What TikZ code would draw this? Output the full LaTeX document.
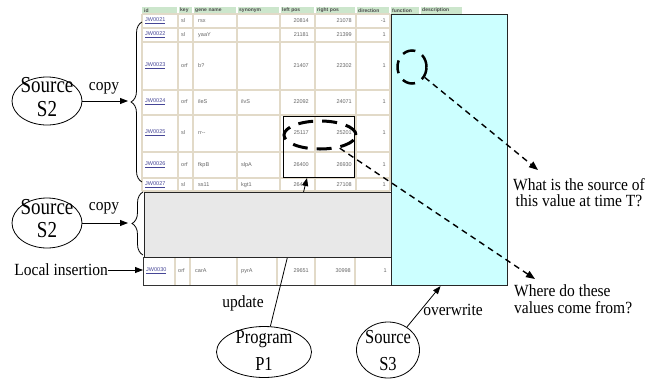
\documentclass[tikz,border=0pt]{standalone}
\usepackage{fontspec}
\setmainfont{Liberation Serif}
\newfontfamily\tabf{Liberation Sans}
\usepackage{graphicx}
\usetikzlibrary{shapes.geometric,decorations.pathreplacing,arrows.meta}
\definecolor{hdrgreen}{RGB}{204,230,204}
\definecolor{celline}{RGB}{226,218,200}
\definecolor{cyanfill}{RGB}{204,255,255}
\definecolor{grayfill}{RGB}{232,232,232}
\definecolor{idblue}{RGB}{70,70,150}
\definecolor{celltext}{RGB}{100,100,100}
\newcommand\vs[2][1.2]{\scalebox{1}[#1]{#2}}
\newcommand\twol[2]{\begin{tabular}{@{}c@{}}#1\\#2\end{tabular}}
\newcommand\twoleft[2]{\begin{tabular}{@{}l@{}}#1\\#2\end{tabular}}
\def\cA{142}\def\cB{178}\def\cC{193}\def\cD{237}\def\cE{280}\def\cF{315}\def\cG{356}\def\cH{390}
\newcommand\trow[9]{%
 \node[cid] (id#1) at (\cA+3,#2) {\underline{#3}};
 \node[ctx] (ky#1) at (\cB+3,#2) {#4};
 \node[ctx] (gn#1) at (\cC+5,#2) {#5};
 \node[ctx] (sy#1) at (\cD+4,#2) {#6};
 \node[cnum] (lp#1) at (\cF-6,#2) {#7};
 \node[cnum] (rp#1) at (\cG-4,#2) {#8};
 \node[cnum] (dr#1) at (\cH-4,#2) {#9};
}
\begin{document}
\begin{tikzpicture}[x=1pt,y=-1pt,
  cid/.style={anchor=west,inner sep=0pt,font=\tabf\fontsize{5.5}{6}\selectfont,text=idblue},
  ctx/.style={anchor=west,inner sep=0pt,font=\tabf\fontsize{5.5}{6}\selectfont,text=celltext},
  cnum/.style={anchor=east,inner sep=0pt,font=\tabf\fontsize{5.5}{6}\selectfont,text=celltext},
  hdr/.style={anchor=west,inner sep=0pt,font=\tabf\bfseries\fontsize{5}{6}\selectfont,text=black!70},
  grid/.style={draw=celline,line width=1.3pt},
  ell/.style={draw,ellipse,line width=0.8pt,inner sep=0pt},
  txtA/.style={inner sep=0pt,font=\fontsize{19}{20.5}\selectfont},
  txtB/.style={inner sep=0pt,font=\fontsize{19}{19.2}\selectfont},
  txtC/.style={inner sep=0pt,font=\fontsize{16.5}{22.5}\selectfont},
  lbl/.style={inner sep=0pt,font=\fontsize{15.5}{15.2}\selectfont},
  arr/.style={-{Triangle[length=8pt,width=6pt]},line width=0.8pt},
  dasharr/.style={-{Triangle[length=9pt,width=7pt]},line width=1.4pt,dash pattern=on 6pt off 4.5pt},
  brc/.style={decorate,decoration={brace,amplitude=11pt,aspect=0.5},line width=0.8pt}
]
\useasboundingbox (0,0) rectangle (645,381);

% ---------- table header ----------
\fill[hdrgreen] (142,7) rectangle (462,14);
\foreach \x in {178,193,237,280,315,356,390,420}
  \draw[white,line width=1.2pt] (\x,7) -- (\x,14);
\node[hdr] (h1) at (144,10.5) {id};
\node[hdr] (h2) at (180,10.5) {key};
\node[hdr] (h3) at (195,10.5) {gene\,\,name};
\node[hdr] (h4) at (239,10.5) {synonym};
\node[hdr] (h5) at (282,10.5) {left\,\,pos};
\node[hdr] (h6) at (317,10.5) {right\,\,pos};
\node[hdr] (h7) at (358,10.5) {direction};
\node[hdr] (h8) at (392,10.5) {function};
\node[hdr] (h9) at (422,10.5) {description};

% ---------- table rows 1-7 ----------
\foreach \y in {14,28,42,90,115,152,178,191}
  \draw[grid] (142,\y) -- (390,\y);
\foreach \x in {142,178,193,237,280,315,356,390}
  \draw[grid] (\x,14) -- (\x,191);
\trow{1}{21}{JW0021}{sl}{rsx}{}{20814}{21078}{-1}
\trow{2}{35}{JW0022}{sl}{yaaY}{}{21181}{21399}{1}
\trow{3}{66}{JW0023}{orf}{b?}{}{21407}{22302}{1}
\trow{4}{102}{JW0024}{orf}{ileS}{ilvS}{22092}{24071}{1}
\trow{5}{133}{JW0025}{sl}{rr--}{}{25117}{25201}{1}
\trow{6}{165}{JW0026}{orf}{fkpB}{slpA}{26400}{26930}{1}
\trow{7}{185}{JW0027}{sl}{ss11}{kgt1}{26471}{27108}{1}

% ---------- table row 8 ----------
\def\cA{143}\def\cB{175}\def\cC{190}\def\cD{237}\def\cE{277}\def\cF{315}\def\cG{355}\def\cH{391}
\foreach \x in {175,190,237,277,315,355}
  \draw[grid] (\x,257) -- (\x,285);
\trow{8}{271}{JW0030}{orf}{carA}{pyrA}{29651}{30998}{1}
\draw[black!80,line width=1pt] (143,257) -- (143,285) -- (391,285);

% ---------- cyan block ----------
\node[draw=black!85,fill=cyanfill,line width=1.1pt,anchor=north west,inner sep=0pt,
      minimum width=116pt,minimum height=271pt] (cyanbox) at (391,14) {};

% ---------- Program P1 and update arrow (behind grey block) ----------
\node[draw=black,line width=1pt,anchor=north west,inner sep=0pt,
      minimum width=71pt,minimum height=61pt] (sel) at (283,116) {};
\coordinate (upd) at ([xshift=-12pt]sel.south);
\node[ell,minimum width=95pt,minimum height=51pt] (P1) at (264,352) {};
\node[txtC] (P1t) at (264,351.5) {\vs{\twol{Program}{P1}}};
\draw[arr] (P1) -- (upd);
\node[lbl] (updl) at (243,303) {\vs[1.1]{update}};

% ---------- grey block ----------
\node[draw=black!85,fill=grayfill,line width=1.1pt,anchor=north west,inner sep=0pt,
      minimum width=247pt,minimum height=65pt] (graybox) at (144,192) {};

% ---------- dashed marks ----------
\node[ell,draw=black,line width=3pt,dash pattern=on 15pt off 9pt,
      minimum width=72pt,minimum height=28pt] (de) at (320,135) {};
\node[ell,draw=black,line width=2.5pt,dash pattern=on 13pt off 8pt,
      minimum width=29pt,minimum height=33pt] (dc) at (412,67) {};

\coordinate (q1) at (538,170);
\coordinate (q2) at (535,279);
\draw[dasharr] (dc) -- (q1);
\draw[dasharr] (de) -- (q2);
\node[lbl] (q1t) at (579,195) {\vs[1.1]{\twol{What is the source of}{this value at time T?}}};
\node[lbl,anchor=west] (q2t) at (514,301.5) {\vs[1.1]{\twoleft{Where do these}{values come from?}}};

% ---------- Source S3 ----------
\node[ell,minimum width=63pt,minimum height=56pt] (S3) at (388,350) {};
\node[txtC] (S3t) at (388,351.5) {\vs{\twol{Source}{S3}}};
\draw[arr] (S3) -- ([xshift=-9pt]cyanbox.south);
\node[lbl] (ovw) at (453,310) {\vs[1.1]{overwrite}};

% ---------- left side: sources S2 ----------
\node[ell,minimum width=70pt,minimum height=48pt] (S2a) at (47,101) {};
\node[txtA] (S2at) at (47,99.5) {\vs{\twol{Source}{S2}}};
\coordinate (b1) at (128,101);
\draw[arr] (S2a.east) -- (b1);
\node[lbl] (cp1) at (104,88) {\vs[1.1]{copy}};
\draw[brc] (142,182) -- (142,22);

\node[ell,minimum width=70pt,minimum height=50pt] (S2b) at (47,223) {};
\node[txtB] (S2bt) at (47,221.5) {\vs{\twol{Source}{S2}}};
\coordinate (b2) at (128,223);
\draw[arr] (S2b.east) -- (b2);
\node[lbl] (cp2) at (104,208) {\vs[1.1]{copy}};
\draw[brc] (143,255) -- (143,192);

% ---------- local insertion ----------
\node[lbl,anchor=east] (loc) at (108,270) {\vs[1.1]{Local insertion}};
\coordinate (ins) at (143,270);
\draw[arr] (loc.east) -- (ins);
\end{tikzpicture}
\end{document}
